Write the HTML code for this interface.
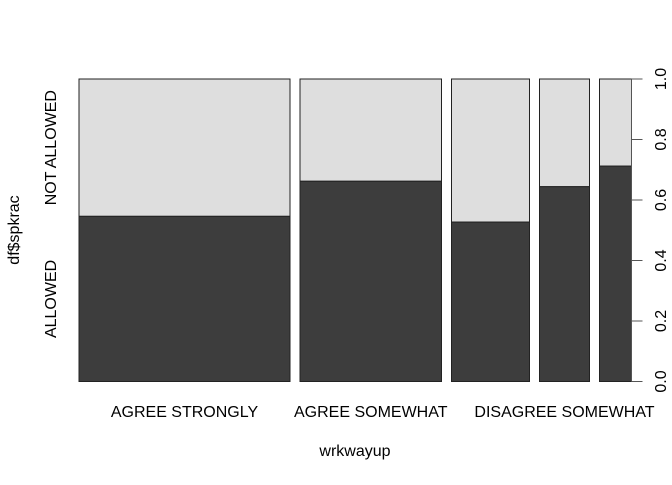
<!DOCTYPE html>
<html><head><meta charset="utf-8"><style>
body{margin:0;background:#fff}
text{font-family:"Liberation Sans",sans-serif;font-size:16px;fill:#000}
</style></head><body>
<svg id="chart" width="672" height="480"></svg>
<script>
const categories=["AGREE STRONGLY","AGREE SOMEWHAT","NEITHER","DISAGREE SOMEWHAT","DISAGREE STRONGLY"];
const showLabel=[true,true,false,true,false];
const counts=[211,141.5,78,50,32];
const allowedShare=[0.546,0.662,0.527,0.644,0.712];
const yTicks=[0,0.2,0.4,0.6,0.8,1.0];
const yTickLabels=["0.0","0.2","0.4","0.6","0.8","1.0"];
const svg=document.getElementById('chart');
const NS='http://www.w3.org/2000/svg';
const X0=79,X1=631.5,Y0=381.5,Y1=79,GAP=10;
function y(v){return Y0-(Y0-Y1)*v;}
const total=counts.reduce((a,b)=>a+b,0);
const avail=(X1-X0)-GAP*(counts.length-1);
function mk(tag,attrs){const e=document.createElementNS(NS,tag);for(const k in attrs)e.setAttribute(k,attrs[k]);svg.appendChild(e);return e;}
let cx=X0;
counts.forEach((c,i)=>{
  const w=c/total*avail;
  const top=mk('rect',{x:cx,y:Y1,width:w,height:y(allowedShare[i])-Y1,fill:'#dedede',stroke:'#222','stroke-width':1});
  
  
  const bot=mk('rect',{x:cx,y:y(allowedShare[i]),width:w,height:Y0-y(allowedShare[i]),fill:'#3d3d3d',stroke:'#222','stroke-width':1});
  
  
  if(showLabel[i]){
    const t=mk('text',{x:cx+w/2,y:417,'text-anchor':'middle'});
    t.textContent=categories[i];
    
    
  }
  cx+=w+GAP;
});
const ax=mk('line',{x1:X1,x2:X1,y1:Y1,y2:Y0,stroke:'#555'});


yTicks.forEach((v,i)=>{
  const l=mk('line',{x1:X1,x2:X1+11,y1:y(v),y2:y(v),stroke:'#555'});
  
  
  const t=mk('text',{x:666,y:y(v),'text-anchor':'middle',transform:`rotate(-90 666 ${y(v)})`});
  t.textContent=yTickLabels[i];
  
  
});
const h0=y(allowedShare[0]);
[["ALLOWED",(h0+Y0)/2],["NOT ALLOWED",(h0+Y1)/2]].forEach(([s,yy])=>{
  const t=mk('text',{x:56,y:yy,'text-anchor':'middle',transform:`rotate(-90 56 ${yy})`});
  t.textContent=s;
  
  
});
const yt=mk('text',{x:19,y:230,'text-anchor':'middle',transform:'rotate(-90 19 230)'});
yt.textContent='df$spkrac';


const xt=mk('text',{x:355,y:456,'text-anchor':'middle'});
xt.textContent='wrkwayup';


</script>
</body></html>
